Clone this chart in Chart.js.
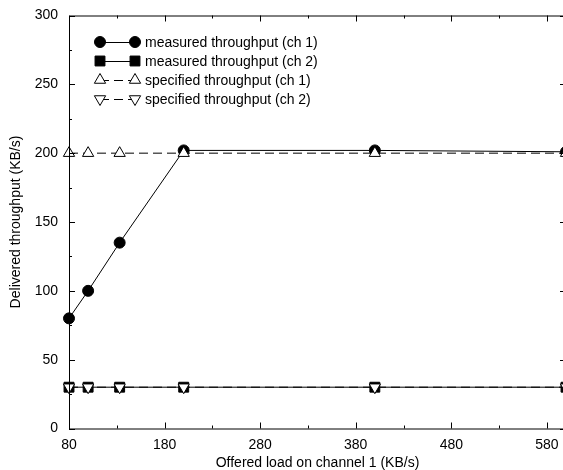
<!DOCTYPE html>
<html>
<head>
<meta charset="utf-8">
<script src="https://cdn.jsdelivr.net/npm/chart.js@4.4.0/dist/chart.umd.min.js"></script>
<style>
  html, body { margin: 0; padding: 0; background: #fff; overflow: hidden; }
  #wrap { width: 580px; height: 470px; }
</style>
</head>
<body>
<div id="wrap"><canvas id="chart" width="580" height="470"></canvas></div>
<script>
// offered load on channel 1 (KB/s)
const loads = [80, 100, 133, 200, 400, 600];
const measuredCh1 = [80, 100, 135, 202, 202, 201];
const measuredCh2 = [30, 30, 30, 30, 30, 30];
const specifiedCh1 = [200, 200, 200, 200, 200, 200];
const specifiedCh2 = [30, 30, 30, 30, 30, 30];

const xTicks = [80, 180, 280, 380, 480, 580];
const xMinor = [130, 230, 330, 430, 530];
const yTicks = [0, 50, 100, 150, 200, 250, 300];
const yMinor = [25, 75, 125, 175, 225, 275];

const legendLabels = [
  "measured throughput (ch 1)",
  "measured throughput (ch 2)",
  "specified throughput (ch 1)",
  "specified throughput (ch 2)"
];

const FONT = "Liberation Sans, Arial, sans-serif";

function toPoints(ys) {
  return loads.map((x, i) => ({ x: x, y: ys[i] }));
}

// frame, inward ticks on all four sides
const framePlugin = {
  id: "frame",
  afterDatasetsDraw(chart) {
    const ctx = chart.ctx;
    const a = chart.chartArea;
    const xs = chart.scales.x, ys = chart.scales.y;
    ctx.save();
    ctx.strokeStyle = "#000";
    ctx.lineWidth = 1;
    ctx.beginPath();
    ctx.rect(a.left + 0.5, a.top + 0.5, a.right - a.left, a.bottom - a.top);
    ctx.stroke();
    ctx.beginPath();
    const tickX = (v, len) => {
      const px = Math.round(xs.getPixelForValue(v)) + 0.5;
      ctx.moveTo(px, a.bottom); ctx.lineTo(px, a.bottom - len);
      ctx.moveTo(px, a.top); ctx.lineTo(px, a.top + len);
    };
    const tickY = (v, len) => {
      const py = Math.round(ys.getPixelForValue(v)) + 0.5;
      ctx.moveTo(a.left, py); ctx.lineTo(a.left + len, py);
      ctx.moveTo(a.right, py); ctx.lineTo(a.right - len, py);
    };
    xTicks.forEach(v => tickX(v, 6));
    xMinor.forEach(v => tickX(v, 3));
    yTicks.forEach(v => tickY(v, 6));
    yMinor.forEach(v => tickY(v, 3));
    ctx.stroke();
    ctx.restore();
  }
};

// legend with marker - line - marker samples
const legendPlugin = {
  id: "sampleLegend",
  afterDraw(chart) {
    const ctx = chart.ctx;
    const metas = chart.data.datasets;
    const x1 = 100, x2 = 135, tx = 145;
    const rows = [42, 61, 80, 99];
    ctx.save();
    ctx.font = "14px " + FONT;
    ctx.textBaseline = "middle";
    ctx.fillStyle = "#000";
    metas.forEach((ds, i) => {
      const y = rows[i];
      ctx.beginPath();
      ctx.setLineDash(ds.borderDash || []);
      ctx.strokeStyle = "#000";
      ctx.lineWidth = 1;
      ctx.moveTo(x1, y + 0.5);
      ctx.lineTo(x2, y + 0.5);
      ctx.stroke();
      ctx.setLineDash([]);
      const opts = {
        pointStyle: ds.pointStyle,
        rotation: ds.pointRotation || 0,
        radius: ds.pointRadius,
        borderWidth: 1
      };
      [x1, x2].forEach(px => {
        ctx.fillStyle = ds.pointBackgroundColor;
        ctx.strokeStyle = "#000";
        Chart.helpers.drawPoint(ctx, opts, px, y);
      });
      ctx.fillStyle = "#000";
      ctx.fillText(legendLabels[i], tx, y + 1);
    });
    ctx.restore();
  }
};

const ctx = document.getElementById("chart").getContext("2d");
const chart = new Chart(ctx, {
  type: "line",
  data: {
    datasets: [
      {
        label: legendLabels[0],
        data: toPoints(measuredCh1),
        borderColor: "#000",
        borderWidth: 1,
        pointStyle: "circle",
        pointRadius: 5.5,
        pointBackgroundColor: "#000",
        pointBorderColor: "#000",
        order: 1
      },
      {
        label: legendLabels[1],
        data: toPoints(measuredCh2),
        borderColor: "#000",
        borderWidth: 1,
        pointStyle: "rect",
        pointRadius: 7,
        pointBackgroundColor: "#000",
        pointBorderColor: "#000",
        order: 1
      },
      {
        label: legendLabels[2],
        data: toPoints(specifiedCh1),
        borderColor: "#000",
        borderWidth: 1,
        borderDash: [9, 5],
        pointStyle: "triangle",
        pointRadius: 6.5,
        pointBackgroundColor: "#fff",
        pointBorderColor: "#000",
        order: 0
      },
      {
        label: legendLabels[3],
        data: toPoints(specifiedCh2),
        borderColor: "#000",
        borderWidth: 1,
        borderDash: [9, 5],
        pointStyle: "triangle",
        pointRotation: 180,
        pointRadius: 6.5,
        pointBackgroundColor: "#fff",
        pointBorderColor: "#000",
        order: 0
      }
    ]
  },
  options: {
    responsive: false,
    animation: false,
    clip: false,
    layout: { padding: { top: 15.5, right: 14, left: 0, bottom: 0 } },
    elements: { line: { tension: 0, fill: false } },
    plugins: {
      legend: { display: false },
      tooltip: { enabled: false }
    },
    scales: {
      x: {
        type: "linear",
        min: 80,
        max: 600,
        grid: { display: false, drawTicks: false },
        border: { display: false },
        afterBuildTicks: (scale) => {
          scale.ticks = xTicks.map(v => ({ value: v }));
        },
        afterFit: (scale) => {
          scale.height = 41.5;
          scale.paddingLeft = 0;
          scale.paddingRight = 0;
        },
        ticks: {
          color: "#000",
          padding: 8,
          maxRotation: 0,
          autoSkip: false,
          font: { family: FONT, size: 14 }
        },
        title: {
          display: true,
          text: "Offered load on channel 1 (KB/s)",
          color: "#000",
          padding: { top: 0, bottom: 0 },
          font: { family: FONT, size: 14, lineHeight: 1 }
        }
      },
      y: {
        type: "linear",
        min: 0,
        max: 300,
        grid: { display: false, drawTicks: false },
        border: { display: false },
        afterBuildTicks: (scale) => {
          scale.ticks = yTicks.map(v => ({ value: v }));
        },
        afterFit: (scale) => {
          scale.width = 69;
          scale.paddingTop = 0;
          scale.paddingBottom = 0;
        },
        ticks: {
          color: "#000",
          padding: 11,
          autoSkip: false,
          font: { family: FONT, size: 14 }
        },
        title: {
          display: true,
          text: "Delivered throughput (KB/s)",
          color: "#000",
          padding: { top: 9, bottom: 0 },
          font: { family: FONT, size: 14, lineHeight: 1 }
        }
      }
    }
  },
  plugins: [framePlugin, legendPlugin]
});
</script>
</body>
</html>
